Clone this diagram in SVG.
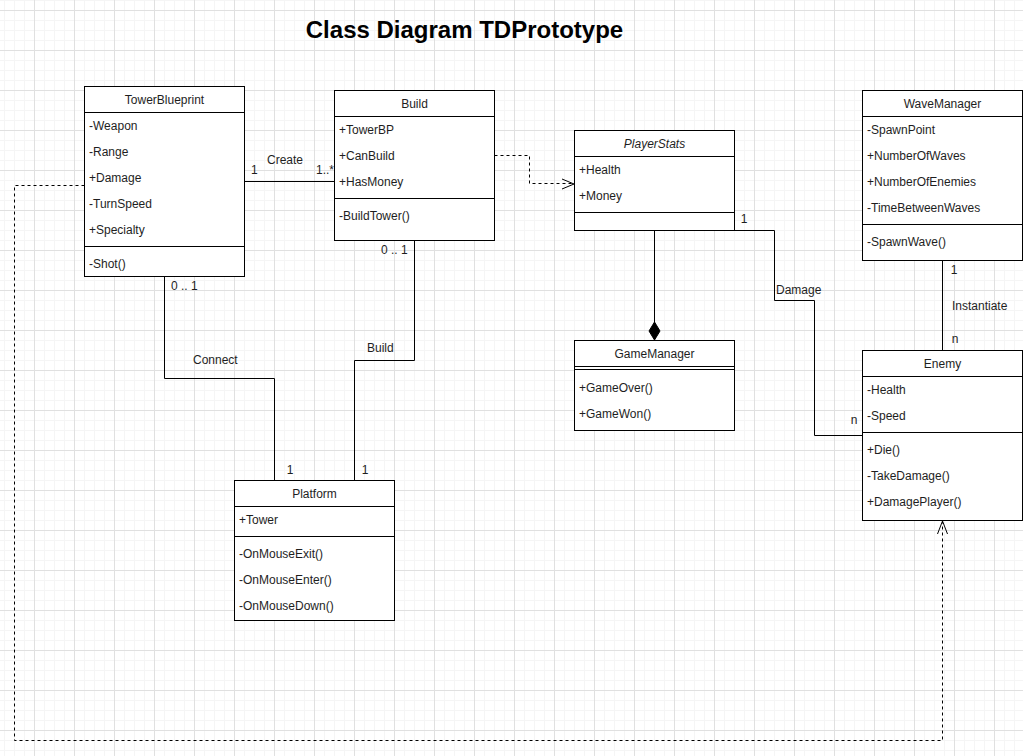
<svg xmlns="http://www.w3.org/2000/svg" width="1023" height="756" viewBox="0 0 1023 756">
<style>
.box{fill:#ffffff;stroke:#000000;stroke-width:1}
.ln{stroke:#000000;stroke-width:1;fill:none}
.dash{stroke:#000000;stroke-width:1;fill:none;stroke-dasharray:3 3}
.t{font-family:"Liberation Sans",Arial,Helvetica,sans-serif;font-size:12px;fill:#1e1e1e}
.h{text-anchor:middle}
.c{text-anchor:middle}
.i{font-style:italic}
.title{font-family:"Liberation Sans",Arial,Helvetica,sans-serif;font-size:24px;font-weight:bold;fill:#000000;text-anchor:middle}
</style>
<defs>
<pattern id="grid" patternUnits="userSpaceOnUse" x="34" y="10" width="40" height="40">
<path d="M10.5 0V40M20.5 0V40M30.5 0V40M0 10.5H40M0 20.5H40M0 30.5H40" stroke="#f5f5f5" stroke-width="1" fill="none"/>
<path d="M0.5 0V40M0 0.5H40" stroke="#e0e0e0" stroke-width="1" fill="none"/>
</pattern>
</defs>
<rect x="0" y="0" width="1023" height="756" fill="#ffffff"/>
<rect x="0" y="0" width="1023" height="756" fill="url(#grid)"/>
<text class="title" x="464.5" y="38">Class Diagram TDPrototype</text>

<g id="connectors">
<path class="ln" d="M244.5 181.5H334.5"/>
<path class="dash" d="M494.5 155.5H529.5V183.5H573"/>
<path class="ln" d="M562 179L574 184L562 189"/>
<path class="ln" d="M734.5 230.5H774.5V300.5H814.5V435.5H862.5"/>
<path class="ln" d="M942.5 260.5V350.5"/>
<path class="ln" d="M654.5 230.5V322"/>
<polygon points="654.5,340 660,331 654.5,322 649,331" fill="#000000" stroke="#000000" stroke-width="1"/>
<path class="ln" d="M164.5 276.5V378.5H274.5V480.5"/>
<path class="ln" d="M414.5 240.5V360.5H354.5V480.5"/>
<path class="dash" d="M84.5 185.5H14.5V740.5H942.5V522"/>
<path class="ln" d="M937.5 534L942.5 521L947.5 534"/>
<text class="t c" x="285" y="164">Create</text>
<text class="t" x="251" y="174">1</text>
<text class="t" x="316" y="174">1..*</text>
<text class="t" x="171" y="290">0 .. 1</text>
<text class="t" x="381" y="254">0 .. 1</text>
<text class="t" x="367" y="352">Build</text>
<text class="t" x="193" y="364">Connect</text>
<text class="t c" x="290" y="474">1</text>
<text class="t c" x="365" y="474">1</text>
<text class="t c" x="744" y="223">1</text>
<text class="t" x="776" y="294">Damage</text>
<text class="t c" x="854" y="424">n</text>
<text class="t c" x="954" y="274">1</text>
<text class="t" x="952" y="310">Instantiate</text>
<text class="t c" x="955" y="343">n</text>
</g>

<g id="TowerBlueprint">
<rect class="box" x="84.5" y="86.5" width="160" height="190"/>
<path class="ln" d="M84.5 112.5H244.5M84.5 246.5H244.5"/>
<text class="t h" x="164.5" y="104">TowerBlueprint</text>
<text class="t" x="89" y="130">-Weapon</text>
<text class="t" x="89" y="156">-Range</text>
<text class="t" x="89" y="182">+Damage</text>
<text class="t" x="89" y="208">-TurnSpeed</text>
<text class="t" x="89" y="234">+Specialty</text>
<text class="t" x="89" y="268">-Shot()</text>
</g>

<g id="Build">
<rect class="box" x="334.5" y="90.5" width="160" height="150"/>
<path class="ln" d="M334.5 116.5H494.5M334.5 198.5H494.5"/>
<text class="t h" x="414.5" y="108">Build</text>
<text class="t" x="339" y="134">+TowerBP</text>
<text class="t" x="339" y="160">+CanBuild</text>
<text class="t" x="339" y="186">+HasMoney</text>
<text class="t" x="339" y="220">-BuildTower()</text>
</g>

<g id="PlayerStats">
<rect class="box" x="574.5" y="130.5" width="160" height="100"/>
<path class="ln" d="M574.5 156.5H734.5M574.5 212.5H734.5"/>
<text class="t h i" x="654.5" y="148">PlayerStats</text>
<text class="t" x="579" y="174">+Health</text>
<text class="t" x="579" y="200">+Money</text>
</g>

<g id="GameManager">
<rect class="box" x="574.5" y="340.5" width="160" height="90"/>
<path class="ln" d="M574.5 366.5H734.5M574.5 369.5H734.5"/>
<text class="t h" x="654.5" y="358">GameManager</text>
<text class="t" x="579" y="392">+GameOver()</text>
<text class="t" x="579" y="418">+GameWon()</text>
</g>

<g id="WaveManager">
<rect class="box" x="862.5" y="90.5" width="160" height="170"/>
<path class="ln" d="M862.5 116.5H1022.5M862.5 224.5H1022.5"/>
<text class="t h" x="942.5" y="108">WaveManager</text>
<text class="t" x="867" y="134">-SpawnPoint</text>
<text class="t" x="867" y="160">+NumberOfWaves</text>
<text class="t" x="867" y="186">+NumberOfEnemies</text>
<text class="t" x="867" y="212">-TimeBetweenWaves</text>
<text class="t" x="867" y="246">-SpawnWave()</text>
</g>

<g id="Enemy">
<rect class="box" x="862.5" y="350.5" width="160" height="170"/>
<path class="ln" d="M862.5 376.5H1022.5M862.5 432.5H1022.5"/>
<text class="t h" x="942.5" y="368">Enemy</text>
<text class="t" x="867" y="394">-Health</text>
<text class="t" x="867" y="420">-Speed</text>
<text class="t" x="867" y="454">+Die()</text>
<text class="t" x="867" y="480">-TakeDamage()</text>
<text class="t" x="867" y="506">+DamagePlayer()</text>
</g>

<g id="Platform">
<rect class="box" x="234.5" y="480.5" width="160" height="140"/>
<path class="ln" d="M234.5 506.5H394.5M234.5 536.5H394.5"/>
<text class="t h" x="314.5" y="498">Platform</text>
<text class="t" x="239" y="524">+Tower</text>
<text class="t" x="239" y="558">-OnMouseExit()</text>
<text class="t" x="239" y="584">-OnMouseEnter()</text>
<text class="t" x="239" y="610">-OnMouseDown()</text>
</g>
</svg>
